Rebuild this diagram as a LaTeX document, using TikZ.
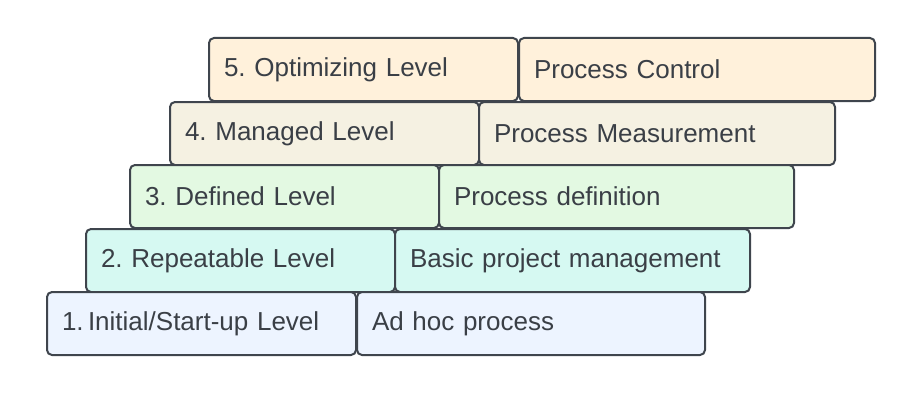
\documentclass[tikz,border=0pt]{standalone}
\usepackage{fontspec}
\setmainfont{Liberation Sans}
\frenchspacing
\definecolor{edge}{HTML}{3F454D}
\definecolor{ink}{HTML}{3A3F46}
\definecolor{lvfive}{HTML}{FFF1DB}
\definecolor{lvfour}{HTML}{F5F1E2}
\definecolor{lvthree}{HTML}{E3F9E2}
\definecolor{lvtwo}{HTML}{D6F9F2}
\definecolor{lvone}{HTML}{EDF4FF}
\begin{document}
\begin{tikzpicture}[x=1pt,y=-1pt,
  stage/.style={draw=edge, line width=2pt, rounded corners=5pt,
    anchor=north west, minimum height=63pt, inner xsep=15pt, inner ysep=0pt,
    outer sep=0pt, align=left, text=ink,
    font=\fontsize{26}{30}\selectfont\frenchspacing},
  wide/.style={minimum width=#1pt, text width=#1pt-30pt}]
\useasboundingbox (0,0) rectangle (923,396);
% level 5
\node[stage, wide=309, fill=lvfive] (l5) at (209,38) {5. Optimizing Level};
\node[stage, wide=356, fill=lvfive] (p5) at (519,38) {Process Control};
% level 4
\node[stage, wide=309, fill=lvfour] (l4) at (170,102) {4. Managed Level};
\node[stage, wide=356, fill=lvfour] (p4) at (479,102) {Process Measurement};
% level 3
\node[stage, wide=309, fill=lvthree] (l3) at (130,165) {3. Defined Level};
\node[stage, wide=355, fill=lvthree] (p3) at (439,165) {Process definition};
% level 2
\node[stage, wide=309, fill=lvtwo] (l2) at (86,229) {2. Repeatable Level};
\node[stage, wide=355, fill=lvtwo] (p2) at (395,229) {Basic project management};
% level 1
\node[stage, wide=309, fill=lvone] (l1) at (47,292) {1.\,Initial/Start-up Level};
\node[stage, wide=348, fill=lvone] (p1) at (357,292) {Ad hoc process};
\end{tikzpicture}
\end{document}
